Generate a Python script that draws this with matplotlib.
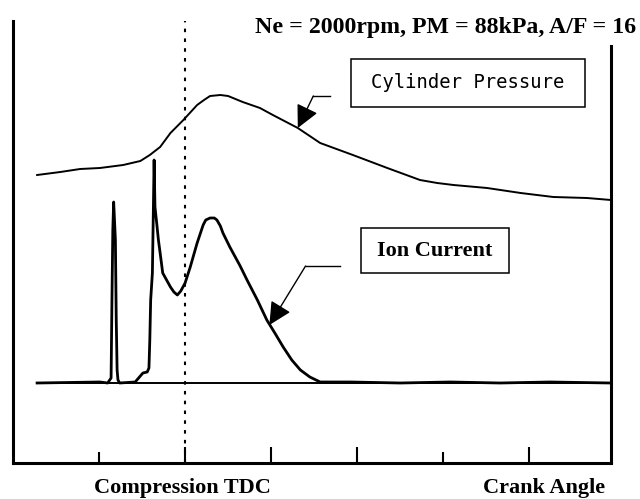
import matplotlib
matplotlib.use("Agg")
import matplotlib.pyplot as plt
from matplotlib.patches import Rectangle

# crank angle in degrees after compression TDC, signals in arbitrary units
crank_p = [-17.2, -14.5, -12.2, -9.9, -7.2, -5.2, -4.1, -2.9, -1.7, -0.2, 1.4, 2.2,
           2.9, 4.1, 5.0, 6.7, 8.7, 10.2, 13.1, 15.7, 19.5, 23.5, 27.3, 29.3,
           31.2, 35.1, 39.0, 42.8, 46.7, 49.5]
pressure = [288, 291, 294, 295, 298, 302, 308, 316, 330, 343, 358, 363,
            367, 368, 367, 361, 355, 348, 335, 320, 308, 295, 283, 280,
            278, 275, 270, 266, 265, 263]

crank_i = [-17.2, -9.9, -9.0, -8.6, -8.5, -8.4, -8.3, -8.1, -8.0, -7.9, -7.8, -7.6,
           -5.8, -4.9, -4.4, -4.2, -4.1, -4.0, -3.8, -3.7, -3.6, -3.5, -3.4, -3.3,
           -3.1, -2.9, -2.6, -1.7, -1.3, -0.9, -0.5, 0.0, 0.6, 1.4, 2.1, 2.4,
           2.9, 3.4, 3.7, 4.1, 4.4, 5.2, 6.4, 7.2, 8.4, 9.5, 10.5, 11.4, 12.4,
           13.4, 14.5, 15.7, 19.2, 25.0, 30.8, 36.6, 42.4, 49.5]
ion_current = [0, 1, 0, 5, 83, 153, 181, 143, 63, 13, 3, 0,
               1, 10, 11, 15, 43, 83, 110, 166, 223, 176, 168, 160,
               143, 130, 110, 96, 91, 88, 92, 100, 116, 140, 158, 163,
               165, 165, 163, 157, 150, 136, 117, 103, 83, 63, 49, 36, 23,
               13, 6, 1, 1, 0, 1, 0, 1, 0]
ION_OFFSET = 80  # ion current trace sits on its own zero line

major_ticks = [0, 10, 20, 40]
minor_ticks = [-10, 30]

SERIF = "Liberation Serif"

fig = plt.figure(figsize=(6.4, 4.99), dpi=100)
ax = fig.add_axes([13 / 640, 36 / 499, 598 / 640, 442 / 499])
ax.set_xlim(-20, 49.5)
ax.set_ylim(0, 442)

ax.plot(crank_p, pressure, color="black", lw=1.4, solid_joinstyle="round")
ion = [v + ION_OFFSET for v in ion_current]
ax.hlines(ION_OFFSET, crank_i[0], 49.5, color="black", lw=1.4)
ax.plot(crank_i, ion, color="black", lw=2.0, solid_joinstyle="round")

# compression TDC marker
ax.axvline(0, color="black", lw=1.5, dashes=(1.7, 3.0))

for side in ("left", "bottom", "right"):
    ax.spines[side].set_linewidth(2.2)
ax.spines["top"].set_visible(False)
ax.spines["right"].set_bounds(0, 417)

ax.set_xticks(major_ticks)
ax.set_xticks(minor_ticks, minor=True)
ax.set_xticklabels([])
ax.set_yticks([])
ax.tick_params(axis="x", which="major", direction="in", length=11.5, width=1.5)
ax.tick_params(axis="x", which="minor", direction="in", length=8, width=1.5)

# labels in boxes, with leader arrows
ax.add_patch(Rectangle((19.3, 356), 27.2, 48, fill=False, ec="black", lw=1.1))
ax.text(32.9, 380, "Cylinder Pressure", family="DejaVu Sans Mono", fontsize=13.6,
        ha="center", va="center")
ax.plot([16.9, 14.9], [367, 367], color="black", lw=1)
ax.annotate("", xy=(13.1, 335), xytext=(14.9, 367),
            arrowprops=dict(arrowstyle="-|>,head_length=1.4,head_width=0.7",
                            color="black", lw=1, shrinkA=0, shrinkB=0))

ax.add_patch(Rectangle((20.5, 190), 17.1, 45, fill=False, ec="black", lw=1.1))
ax.text(29.0, 212.5, "Ion Current", family=SERIF, fontweight="bold", fontsize=16,
        ha="center", va="center")
ax.plot([18.0, 14.0], [197, 197], color="black", lw=1)
ax.annotate("", xy=(9.8, 138), xytext=(14.0, 197),
            arrowprops=dict(arrowstyle="-|>,head_length=1.4,head_width=0.7",
                            color="black", lw=1, shrinkA=0, shrinkB=0))

fig.text(636 / 640, 1 - 28 / 499, "Ne = 2000rpm, PM = 88kPa, A/F = 16",
         family=SERIF, fontweight="bold", fontsize=17.2, ha="right", va="center")
fig.text(182 / 640, 1 - 488 / 499, "Compression TDC", family=SERIF,
         fontweight="bold", fontsize=16, ha="center", va="center")
fig.text(544.5 / 640, 1 - 488 / 499, "Crank Angle", family=SERIF,
         fontweight="bold", fontsize=16, ha="center", va="center")

fig.savefig("out.png", dpi=100, facecolor="white")
